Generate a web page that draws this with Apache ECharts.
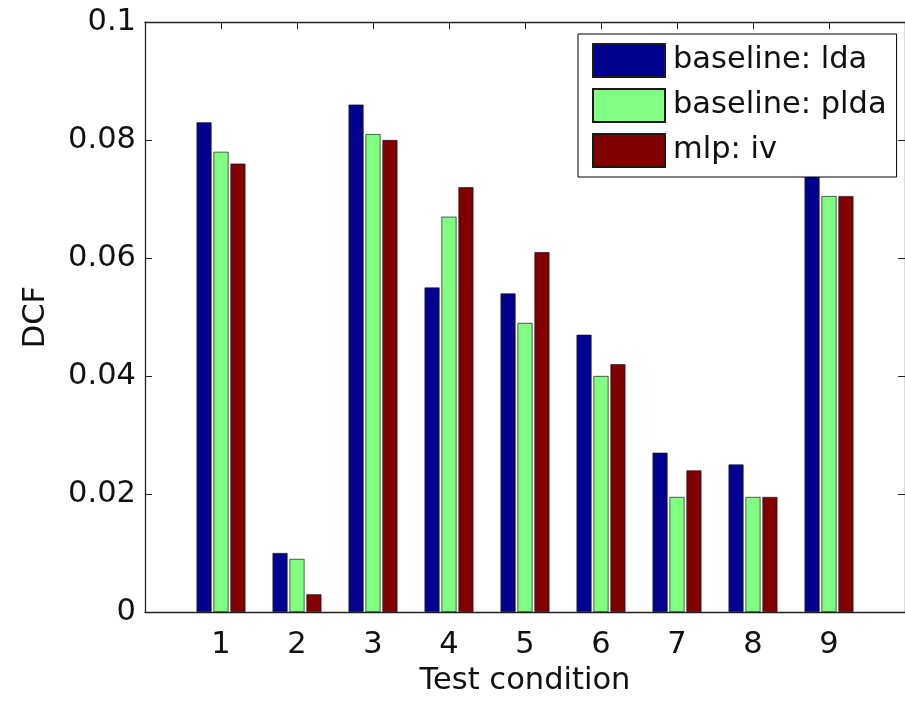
<!DOCTYPE html>
<html>
<head>
<meta charset="utf-8">
<script src="https://cdn.jsdelivr.net/npm/echarts@6/dist/echarts.min.js"></script>
<style>
html,body{margin:0;padding:0;background:#fff;}
#chart{width:905px;height:702px;}
</style>
</head>
<body>
<div id="chart"></div>
<script>
// categories (padded with empty slots at 0 and 10 so x runs 0..10)
const categories = ['0','1','2','3','4','5','6','7','8','9','10'];
const seriesNames = ['baseline: lda', 'baseline: plda', 'mlp: iv'];
const ldaValues  = [null, 0.083, 0.010, 0.086, 0.055, 0.054, 0.047, 0.027, 0.025, 0.080, null];
const pldaValues = [null, 0.078, 0.009, 0.081, 0.067, 0.049, 0.040, 0.0195, 0.0195, 0.0705, null];
const ivValues   = [null, 0.076, 0.003, 0.080, 0.072, 0.061, 0.042, 0.024, 0.0195, 0.0705, null];
const yTicks = [0, 0.02, 0.04, 0.06, 0.08, 0.1];

const colors = ['#00008F', '#80FF80', '#800000'];
const FONT = 'DejaVu Sans';
const FS = 30.5;
const axisColor = '#222';
const isCat = (i) => i >= 1 && i <= 9;

const chart = echarts.init(document.getElementById('chart'), null, {renderer: 'canvas'});
const mkSeries = (name, data, color) => ({
  name: name,
  type: 'bar',
  data: data,
  barWidth: 15,
  barGap: '13%',
  itemStyle: {color: color, borderColor: '#1a1a1a', borderWidth: 0.7},
  emphasis: {disabled: true},
  animation: false
});

chart.setOption({
  animation: false,
  backgroundColor: '#fff',
  textStyle: {fontFamily: FONT},
  grid: {left: 145, top: 22, width: 761, height: 596, containLabel: false},
  legend: {
    orient: 'vertical',
    left: 578,
    top: 34,
    padding: [9, 10, 9, 14],
    itemWidth: 72,
    itemHeight: 33,
    itemGap: 10,
    backgroundColor: '#fff',
    borderColor: '#000',
    borderWidth: 1,
    icon: 'rect',
    selectedMode: false,
    textStyle: {fontFamily: FONT, fontSize: FS, color: '#111', padding: [0, 0, 0, 3]},
    data: seriesNames
  },
  xAxis: [
    {
      type: 'category',
      data: categories,
      boundaryGap: false,
      position: 'bottom',
      name: 'Test condition',
      nameLocation: 'middle',
      nameGap: 54,
      nameTextStyle: {fontFamily: FONT, fontSize: FS, color: '#111'},
      axisLine: {show: true, lineStyle: {color: axisColor, width: 1.3}},
      axisTick: {show: true, inside: true, length: 7, interval: (i) => isCat(i), lineStyle: {color: axisColor}},
      axisLabel: {show: true, interval: (i) => isCat(i), margin: 18, fontFamily: FONT, fontSize: FS, color: '#111'},
      splitLine: {show: false}
    },
    {
      type: 'category',
      data: categories,
      boundaryGap: false,
      position: 'top',
      axisLine: {show: true, onZero: false, lineStyle: {color: axisColor, width: 1.3}},
      axisTick: {show: true, inside: true, length: 7, interval: (i) => isCat(i), lineStyle: {color: axisColor}},
      axisLabel: {show: false},
      splitLine: {show: false}
    }
  ],
  yAxis: [
    {
      type: 'value',
      min: 0,
      max: 0.1,
      interval: 0.02,
      position: 'left',
      name: 'DCF',
      nameLocation: 'middle',
      nameGap: 93,
      nameTextStyle: {fontFamily: FONT, fontSize: FS, color: '#111'},
      axisLine: {show: true, lineStyle: {color: axisColor, width: 1.3}},
      axisTick: {show: true, inside: true, length: 7, lineStyle: {color: axisColor}},
      axisLabel: {
        show: true, margin: 9, fontFamily: FONT, fontSize: FS, color: '#111',
        formatter: (v) => {
          const t = yTicks.find(x => Math.abs(x - v) < 1e-9);
          return t === undefined ? '' : String(t);
        }
      },
      splitLine: {show: false}
    },
    {
      type: 'value',
      min: 0,
      max: 0.1,
      interval: 0.02,
      position: 'right',
      axisLine: {show: true, onZero: false, lineStyle: {color: axisColor, width: 1.3}},
      axisTick: {show: true, inside: true, length: 7, lineStyle: {color: axisColor}},
      axisLabel: {show: false},
      splitLine: {show: false}
    }
  ],
  series: [
    mkSeries(seriesNames[0], ldaValues, colors[0]),
    mkSeries(seriesNames[1], pldaValues, colors[1]),
    mkSeries(seriesNames[2], ivValues, colors[2])
  ]
});
</script>
</body>
</html>
